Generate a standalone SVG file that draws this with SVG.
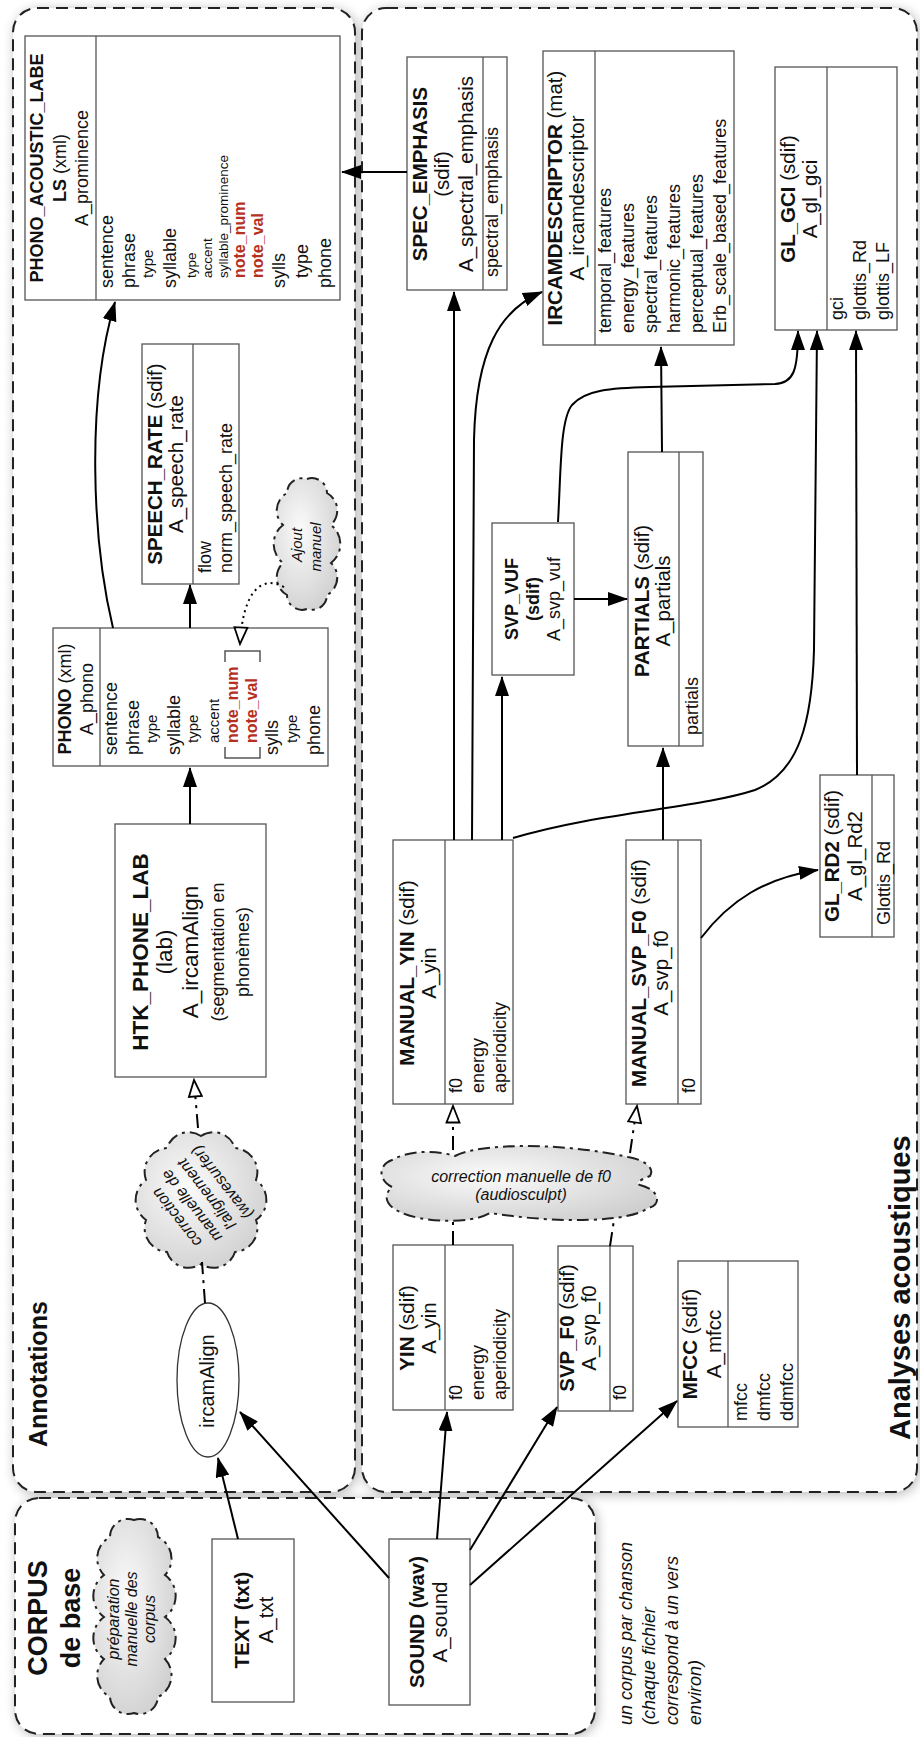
<svg xmlns="http://www.w3.org/2000/svg" width="920" height="1737" viewBox="0 0 920 1737">
<defs>
<style>
text { font-family: "Liberation Sans", Arial, Helvetica, sans-serif; font-size: 18px; fill: #111; }
.t { font-size: 20.5px; }
.h { font-size: 22.5px; }
.b { font-weight: bold; }
.i { font-style: italic; }
.s { font-size: 15px; }
.xs { font-size: 13.5px; }
.ci { font-style: italic; font-size: 16px; }
.red { fill: #b5301e; font-weight: bold; font-size: 16px; }
.mid { text-anchor: middle; }
.box { fill: #fff; stroke: #555; stroke-width: 1.3; }
.div { stroke: #555; stroke-width: 1.3; fill: none; }
.cont { fill: #fff; stroke: #222; stroke-width: 2; stroke-dasharray: 12 7; }
.con { fill: none; stroke: #000; stroke-width: 2; }
.dd { stroke-dasharray: 14 6 3 6; }
.dot { stroke-dasharray: 2 4; }
.cloud { fill: url(#cg); stroke: #222; stroke-width: 2; stroke-dasharray: 12 5 3 5; }
.lbl { font-weight: bold; }
</style>
<radialGradient id="cg" cx="0.4" cy="0.4" r="0.75">
<stop offset="0" stop-color="#fbfbfb"/>
<stop offset="1" stop-color="#cbcbcb"/>
</radialGradient>
<filter id="sh" x="-5%" y="-5%" width="110%" height="110%">
<feGaussianBlur in="SourceAlpha" stdDeviation="6"/>
<feOffset dx="2" dy="2"/>
<feComponentTransfer><feFuncA type="linear" slope="0.28"/></feComponentTransfer>
<feMerge><feMergeNode/><feMergeNode in="SourceGraphic"/></feMerge>
</filter>
<marker id="arr" viewBox="0 0 20 14" refX="19" refY="7" markerWidth="20" markerHeight="14" markerUnits="userSpaceOnUse" orient="auto">
<path d="M0,0 L20,7 L0,14 Z" fill="#000"/>
</marker>
<marker id="open" viewBox="0 0 20 16" refX="18" refY="8" markerWidth="20" markerHeight="16" markerUnits="userSpaceOnUse" orient="auto">
<path d="M1.5,1.5 L18,8 L1.5,14.5 Z" fill="#fff" stroke="#000" stroke-width="1.8"/>
</marker>
</defs>

<!-- containers -->
<g id="containers">
<rect id="c_annotations" class="cont" filter="url(#sh)" x="13" y="8" width="342" height="1484" rx="24"/>
<rect id="c_analyses" class="cont" filter="url(#sh)" x="362" y="8" width="555" height="1484" rx="24"/>
<rect id="c_corpus" class="cont" filter="url(#sh)" x="15" y="1498" width="580" height="236" rx="24"/>
<g transform="rotate(-90)">
<text class="lbl" style="font-size:25px" x="-1447" y="47">Annotations</text>
<text class="lbl" style="font-size:29px" x="-1440" y="910">Analyses acoustiques</text>
<text class="lbl mid" style="font-size:27px" x="-1618" y="47">CORPUS</text>
<text class="lbl mid" style="font-size:27px" x="-1618" y="80">de base</text>
<text class="i" x="-1725" y="632">un corpus par chanson</text>
<text class="i" x="-1725" y="655">(chaque fichier</text>
<text class="i" x="-1725" y="678">correspond à un vers</text>
<text class="i" x="-1725" y="701">environ)</text>
</g>
</g>

<!-- nodes -->
<g id="phono_acoustic_labels">
<rect class="box" x="25" y="36" width="315" height="264"/>
<line class="div" x1="96" y1="36" x2="96" y2="300"/>
<g transform="rotate(-90)">
<text class="b mid" x="-168" y="43">PHONO_ACOUSTIC_LABE</text>
<text class="mid" x="-168" y="66"><tspan class="b">LS</tspan> (xml)</text>
<text class="mid" x="-168" y="88">A_prominence</text>
<text x="-288" y="113">sentence</text>
<text x="-288" y="135">phrase</text>
<text class="s" x="-278" y="153">type</text>
<text x="-288" y="176">syllable</text>
<text class="xs" x="-278" y="196">type</text>
<text class="xs" x="-278" y="212">accent</text>
<text class="xs" x="-278" y="228">syllable_prominence</text>
<text class="red" x="-278" y="245">note_num</text>
<text class="red" x="-278" y="263">note_val</text>
<text x="-288" y="285">sylls</text>
<text x="-278" y="308">type</text>
<text x="-288" y="331">phone</text>
</g>
</g>

<g id="spec_emphasis">
<rect class="box" x="407" y="57" width="100" height="233"/>
<line class="div" x1="483" y1="57" x2="483" y2="290"/>
<g transform="rotate(-90)">
<text class="t b mid" x="-174" y="427">SPEC_EMPHASIS</text>
<text class="t mid" x="-174" y="449">(sdif)</text>
<text class="t mid" x="-174" y="473">A_spectral_emphasis</text>
<text x="-277" y="498">spectral_emphasis</text>
</g>
</g>

<g id="ircamdescriptor">
<rect class="box" x="543" y="51" width="191" height="294"/>
<line class="div" x1="595" y1="51" x2="595" y2="345"/>
<g transform="rotate(-90)">
<text class="t mid" x="-198" y="562"><tspan class="b">IRCAMDESCRIPTOR</tspan> (mat)</text>
<text class="t mid" x="-198" y="584">A_ircamdescriptor</text>
<text x="-333" y="611">temporal_features</text>
<text x="-333" y="634">energy_features</text>
<text x="-333" y="657">spectral_features</text>
<text x="-333" y="680">harmonic_features</text>
<text x="-333" y="703">perceptual_features</text>
<text x="-333" y="726">Erb_scale_based_features</text>
</g>
</g>

<g id="gl_gci">
<rect class="box" x="775" y="67" width="122" height="263"/>
<line class="div" x1="827" y1="67" x2="827" y2="330"/>
<g transform="rotate(-90)">
<text class="t mid" x="-199" y="795"><tspan class="b">GL_GCI</tspan> (sdif)</text>
<text class="t mid" x="-199" y="817">A_gl_gci</text>
<text x="-320" y="843">gci</text>
<text x="-320" y="866">glottis_Rd</text>
<text x="-320" y="889">glottis_LF</text>
</g>
</g>

<g id="speech_rate">
<rect class="box" x="142" y="344" width="97" height="240"/>
<line class="div" x1="193" y1="344" x2="193" y2="584"/>
<g transform="rotate(-90)">
<text class="t mid" x="-464" y="162"><tspan class="b">SPEECH_RATE</tspan> (sdif)</text>
<text class="t mid" x="-464" y="183">A_speech_rate</text>
<text x="-573" y="211">flow</text>
<text x="-573" y="232">norm_speech_rate</text>
</g>
</g>

<g id="ajout_manuel">
<path class="cloud" d="M307,479 A15,15 0 0 1 327,493 A20,20 0 0 1 331,525 A24,24 0 0 1 331,563 A20,20 0 0 1 327,595 A15,15 0 0 1 307,609 A15,15 0 0 1 287,595 A20,20 0 0 1 283,563 A24,24 0 0 1 283,525 A20,20 0 0 1 287,493 A15,15 0 0 1 307,479 Z"/>
<g transform="rotate(-90)">
<text class="i mid" style="font-size:15px" x="-545" y="302">Ajout</text>
<text class="i mid" style="font-size:15px" x="-547" y="321">manuel</text>
</g>
</g>

<g id="phono">
<rect class="box" x="53" y="628" width="275" height="138"/>
<line class="div" x1="100" y1="628" x2="100" y2="766"/>
<path class="div" d="M225,662 L225,651 L260,651 L260,662 M225,747 L225,758 L260,758 L260,747" style="stroke-width:1.5"/>
<g transform="rotate(-90)">
<text class="mid" x="-699" y="71"><tspan class="b">PHONO</tspan> (xml)</text>
<text class="mid" x="-699" y="93">A_phono</text>
<text x="-755" y="117">sentence</text>
<text x="-755" y="139">phrase</text>
<text class="s" x="-743" y="157">type</text>
<text x="-755" y="180">syllable</text>
<text class="s" x="-743" y="198">type</text>
<text class="s" x="-743" y="219">accent</text>
<text class="red" x="-743" y="238">note_num</text>
<text class="red" x="-743" y="257">note_val</text>
<text x="-755" y="278">sylls</text>
<text class="s" x="-743" y="297">type</text>
<text x="-755" y="320">phone</text>
</g>
</g>

<g id="htk_phone_lab">
<rect class="box" x="115" y="824" width="151" height="253"/>
<g transform="rotate(-90)">
<text class="h b mid" x="-952" y="148">HTK_PHONE_LAB</text>
<text class="h mid" x="-952" y="172">(lab)</text>
<text class="h mid" x="-952" y="198">A_ircamAlign</text>
<text class="mid" x="-952" y="224">(segmentation en</text>
<text class="mid" x="-952" y="249">phonèmes)</text>
</g>
</g>

<g id="correction_alignement">
<path class="cloud" d="M201,1136 A22.5,22.5 0 0 1 235,1148 A24,24 0 0 1 256,1180 A24.5,24.5 0 0 1 256,1220 A24,24 0 0 1 235,1252 A22.5,22.5 0 0 1 201,1264 A22.5,22.5 0 0 1 167,1252 A24,24 0 0 1 146,1220 A24.5,24.5 0 0 1 146,1180 A24,24 0 0 1 167,1148 A22.5,22.5 0 0 1 201,1136 Z"/>
<g transform="translate(199,1200) rotate(-128)">
<text class="ci mid" x="0" y="-23">correction</text>
<text class="ci mid" x="0" y="-4">manuelle de</text>
<text class="ci mid" x="0" y="15">l'alignement</text>
<text class="ci mid" x="0" y="34">(wavesurfer)</text>
</g>
</g>

<g id="ircamalign">
<ellipse cx="208" cy="1380" rx="31" ry="77" fill="#fff" stroke="#333" stroke-width="1.3"/>
<g transform="rotate(-90)">
<text class="mid" style="font-size:20px" x="-1381" y="214">ircamAlign</text>
</g>
</g>

<g id="manual_yin">
<rect class="box" x="393" y="840" width="120" height="264"/>
<line class="div" x1="445" y1="840" x2="445" y2="1104"/>
<g transform="rotate(-90)">
<text class="t mid" x="-973" y="414"><tspan class="b">MANUAL_YIN</tspan> (sdif)</text>
<text class="t mid" x="-973" y="436">A_yin</text>
<text x="-1093" y="462">f0</text>
<text x="-1093" y="484">energy</text>
<text x="-1093" y="506">aperiodicity</text>
</g>
</g>

<g id="yin">
<rect class="box" x="393" y="1245" width="120" height="165"/>
<line class="div" x1="445" y1="1245" x2="445" y2="1410"/>
<g transform="rotate(-90)">
<text class="t mid" x="-1328" y="414"><tspan class="b">YIN</tspan> (sdif)</text>
<text class="t mid" x="-1328" y="436">A_yin</text>
<text x="-1400" y="462">f0</text>
<text x="-1400" y="484">energy</text>
<text x="-1400" y="506">aperiodicity</text>
</g>
</g>

<g id="correction_f0">
<path class="cloud" d="M392,1187 C378,1180 378,1165 392,1160 C410,1150 435,1150 455,1156 C480,1143 560,1142 628,1157 C645,1160 655,1168 650,1176 C640,1180 635,1183 640,1185 C660,1190 662,1205 648,1208 C630,1222 560,1224 490,1213 C470,1225 420,1222 400,1212 C385,1205 383,1195 392,1187 Z"/>
<text class="ci mid" x="521" y="1182">correction manuelle de f0</text>
<text class="ci mid" x="521" y="1200">(audiosculpt)</text>
</g>

<g id="svp_f0">
<rect class="box" x="558" y="1246" width="75" height="165"/>
<line class="div" x1="610" y1="1246" x2="610" y2="1411"/>
<g transform="rotate(-90)">
<text class="t mid" x="-1328" y="574"><tspan class="b">SVP_F0</tspan> (sdif)</text>
<text class="t mid" x="-1328" y="596">A_svp_f0</text>
<text x="-1400" y="626">f0</text>
</g>
</g>

<g id="manual_svp_f0">
<rect class="box" x="626" y="840" width="75" height="264"/>
<line class="div" x1="678" y1="840" x2="678" y2="1104"/>
<g transform="rotate(-90)">
<text class="t mid" x="-973" y="646"><tspan class="b">MANUAL_SVP_F0</tspan> (sdif)</text>
<text class="t mid" x="-973" y="668">A_svp_f0</text>
<text x="-1093" y="695">f0</text>
</g>
</g>

<g id="mfcc">
<rect class="box" x="678" y="1261" width="120" height="166"/>
<line class="div" x1="728" y1="1261" x2="728" y2="1427"/>
<g transform="rotate(-90)">
<text class="t mid" x="-1344" y="697"><tspan class="b">MFCC</tspan> (sdif)</text>
<text class="t mid" x="-1344" y="721">A_mfcc</text>
<text x="-1421" y="747">mfcc</text>
<text x="-1421" y="770">dmfcc</text>
<text x="-1421" y="793">ddmfcc</text>
</g>
</g>

<g id="svp_vuf">
<rect class="box" x="492" y="523" width="82" height="152"/>
<g transform="rotate(-90)">
<text class="b mid" x="-599" y="518">SVP_VUF</text>
<text class="b mid" x="-599" y="539">(sdif)</text>
<text class="mid" x="-599" y="560">A_svp_vuf</text>
</g>
</g>

<g id="partials">
<rect class="box" x="628" y="452" width="75" height="294"/>
<line class="div" x1="679" y1="452" x2="679" y2="746"/>
<g transform="rotate(-90)">
<text class="t mid" x="-601" y="649"><tspan class="b">PARTIALS</tspan> (sdif)</text>
<text class="t mid" x="-601" y="670">A_partials</text>
<text x="-735" y="698">partials</text>
</g>
</g>

<g id="gl_rd2">
<rect class="box" x="820" y="775" width="74" height="162"/>
<line class="div" x1="872" y1="775" x2="872" y2="937"/>
<g transform="rotate(-90)">
<text class="t mid" x="-856" y="839"><tspan class="b">GL_RD2</tspan> (sdif)</text>
<text class="t mid" x="-856" y="862">A_gl_Rd2</text>
<text x="-925" y="890">Glottis_Rd</text>
</g>
</g>

<g id="preparation">
<path class="cloud" d="M134,1520 A18,18 0 0 1 158,1537 A24,24 0 0 1 165,1575 A26,26 0 0 1 165,1617 A26,26 0 0 1 165,1659 A24,24 0 0 1 158,1697 A18,18 0 0 1 134,1713 A18,18 0 0 1 110,1697 A24,24 0 0 1 104,1659 A26,26 0 0 1 104,1617 A26,26 0 0 1 104,1575 A24,24 0 0 1 110,1537 A18,18 0 0 1 134,1520 Z"/>
<g transform="rotate(-90)">
<text class="ci mid" x="-1619" y="119">préparation</text>
<text class="ci mid" x="-1619" y="137">manuelle des</text>
<text class="ci mid" x="-1619" y="155">corpus</text>
</g>
</g>

<g id="text_txt">
<rect class="box" x="212" y="1539" width="82" height="163"/>
<g transform="rotate(-90)">
<text class="t b mid" x="-1620" y="249">TEXT (txt)</text>
<text class="t mid" x="-1620" y="273">A_txt</text>
</g>
</g>

<g id="sound_wav">
<rect class="box" x="389" y="1539" width="81" height="166"/>
<g transform="rotate(-90)">
<text class="t b mid" x="-1622" y="424">SOUND (wav)</text>
<text class="t mid" x="-1622" y="447">A_sound</text>
</g>
</g>

<!-- connectors -->
<g id="connectors">
<path class="con" d="M407,172 L342,172" marker-end="url(#arr)"/>
<path class="con" d="M113,628 C92,540 86,400 115,302" marker-end="url(#arr)"/>
<path class="con" d="M190,628 L190,585" marker-end="url(#arr)"/>
<path class="con" d="M190,824 L190,768" marker-end="url(#arr)"/>
<path class="con dot" d="M284,587 C262,575 243,590 240,644" marker-end="url(#open)"/>
<path class="con dd" d="M205,1303 L202,1262"/>
<path class="con dd" d="M198,1128 L194,1080" marker-end="url(#open)"/>
<path class="con" d="M238,1539 L218,1458" marker-end="url(#arr)"/>
<path class="con" d="M389,1578 L240,1412" marker-end="url(#arr)"/>
<path class="con" d="M437,1539 L447,1412" marker-end="url(#arr)"/>
<path class="con" d="M470,1550 L557,1407" marker-end="url(#arr)"/>
<path class="con" d="M470,1585 L677,1401" marker-end="url(#arr)"/>
<path class="con dd" d="M453,1245 L453,1222"/>
<path class="con dd" d="M453,1150 L453,1106" marker-end="url(#open)"/>
<path class="con dd" d="M610,1246 L614,1220"/>
<path class="con dd" d="M630,1153 L637,1106" marker-end="url(#open)"/>
<path class="con" d="M454,840 L454,292" marker-end="url(#arr)"/>
<path class="con" d="M472,840 L474,440 C476,350 500,310 542,292" marker-end="url(#arr)"/>
<path class="con" d="M502,840 L502,677" marker-end="url(#arr)"/>
<path class="con" d="M513,838 C600,812 700,808 755,790 C800,772 812,720 814,650 L817,331" marker-end="url(#arr)"/>
<path class="con" d="M574,599 L627,599" marker-end="url(#arr)"/>
<path class="con" d="M558,522 C561,470 560,420 572,405 C585,390 610,388 650,387 L775,384 C794,383 798,370 798,331" marker-end="url(#arr)"/>
<path class="con" d="M662,452 L661,347" marker-end="url(#arr)"/>
<path class="con" d="M663,840 L663,748" marker-end="url(#arr)"/>
<path class="con" d="M701,938 C730,900 765,878 818,870" marker-end="url(#arr)"/>
<path class="con" d="M857,775 L856,331" marker-end="url(#arr)"/>
</g>
</svg>
